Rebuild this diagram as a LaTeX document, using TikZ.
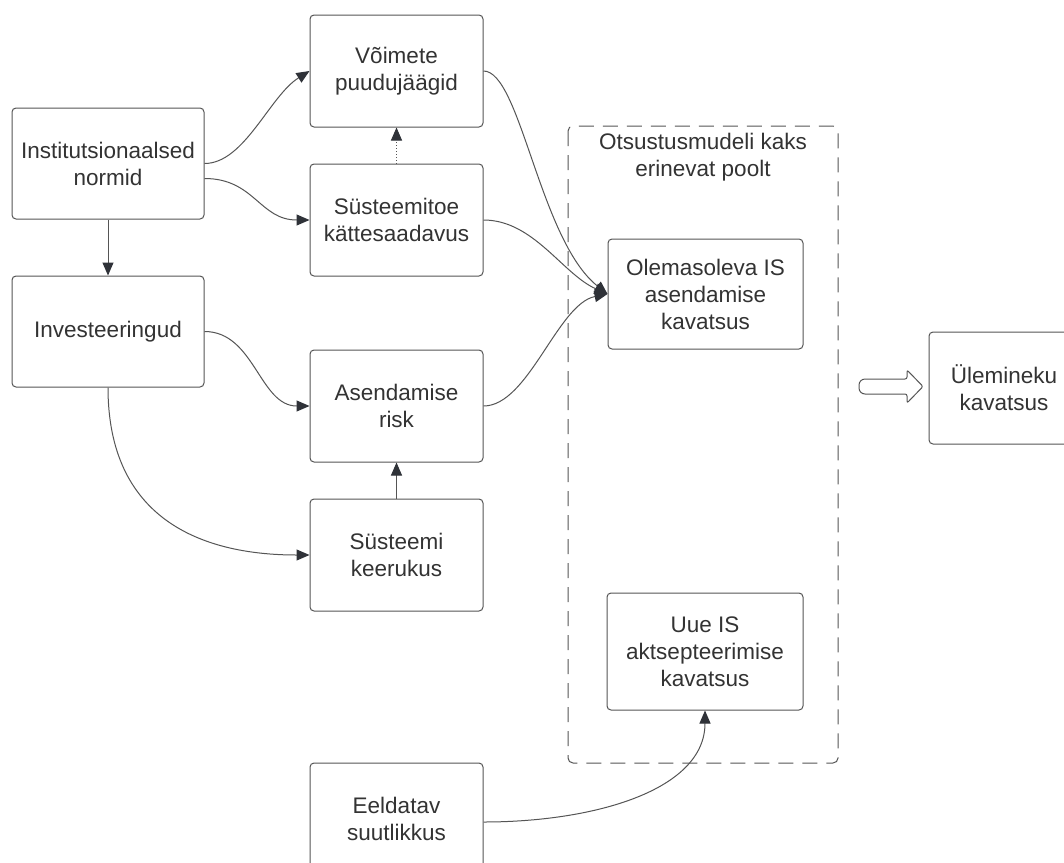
\documentclass[tikz,border=0pt]{standalone}
\usepackage{fontspec}
\setmainfont{Liberation Sans}
\usetikzlibrary{arrows.meta,calc}
\definecolor{edge}{HTML}{555555}
\definecolor{tip}{HTML}{2F3238}
\definecolor{txt}{HTML}{333333}
\begin{document}
\begin{tikzpicture}[x=1pt,y=-1pt,
  box/.style={draw=edge,line width=1pt,rounded corners=4pt,align=center,
    text=txt,font=\fontsize{22.5}{27}\selectfont,inner sep=0pt,
    minimum width=173pt,minimum height=112pt},
  conn/.style={draw=edge,line width=1pt,-{Triangle[length=13pt,width=11pt,color=tip]}},
  lbl/.style={align=center,text=txt,font=\fontsize{22.5}{27}\selectfont,inner sep=0pt}]
\useasboundingbox (0,0) rectangle (1064,862);
\fill[white] (0,0) rectangle (1064,862);
% dashed group
\draw[edge,line width=1pt,rounded corners=5pt,dash pattern=on 15pt off 9pt]
  (568,126) rectangle (838,763);
\node[lbl] (grp) at (703,157) {Otsustusmudeli kaks\\erinevat poolt};
% nodes
\node[box,minimum width=192pt,minimum height=111pt] (inst) at (108,163.5) {Institutsionaalsed\\normid};
\node[box,minimum width=192pt,minimum height=111pt] (inv) at (108,331.5) {Investeeringud};
\node[box] (voi) at (396.5,71) {Võimete\\puudujäägid};
\node[box] (sys) at (396.5,220) {Süsteemitoe\\kättesaadavus};
\node[box] (ase) at (396.5,406) {Asendamise\\risk};
\node[box] (kee) at (396.5,555) {Süsteemi\\keerukus};
\node[box] (eel) at (396.5,819) {Eeldatav\\suutlikkus};
\node[box,minimum width=195pt,minimum height=110pt] (ole) at (705.5,294) {Olemasoleva IS\\asendamise\\kavatsus};
\node[box,minimum width=196pt,minimum height=117pt] (uue) at (705,651.5) {Uue IS\\aktsepteerimise\\kavatsus};
\node[box,minimum width=150pt,minimum height=112pt] (ule) at (1004,388) {Ülemineku\\kavatsus};
% hollow arrow
\draw[edge,line width=1pt,fill=white,rounded corners=2pt]
  (907,379) -- (907,370) -- (923,386.5) -- (907,403) -- (907,394)
  [rounded corners=6pt] -- (859,394) -- (859,379) [rounded corners=2pt] -- cycle;
% connectors
\draw[conn] (inst.east) .. controls +(40,0) and +(-40,25) .. (voi.west);
\draw[conn] ($(inst.east)+(0,15)$) .. controls +(50,0) and +(-50,0) .. (sys.west);
\draw[conn] (inst.south) -- (inv.north);
\draw[conn] (inv.east) .. controls +(50,0) and +(-50,0) .. (ase.west);
\draw[conn] (inv.south) .. controls +(0,130) and +(-110,0) .. (kee.west);
\draw[conn,dotted] (sys.north) -- (voi.south);
\draw[conn] (kee.north) -- (ase.south);
\draw[conn] (voi.east) .. controls +(37,0) and +(-68,-54) .. (ole.west);
\draw[conn] (sys.east) .. controls +(50,0) and +(-45,-20) .. (ole.west);
\draw[conn] (ase.east) .. controls +(45,0) and +(-50,10) .. (ole.west);
\draw[conn] ($(eel.east)+(0,3)$) .. controls +(110,0) and +(0,80) .. (uue.south);
\end{tikzpicture}
\end{document}
